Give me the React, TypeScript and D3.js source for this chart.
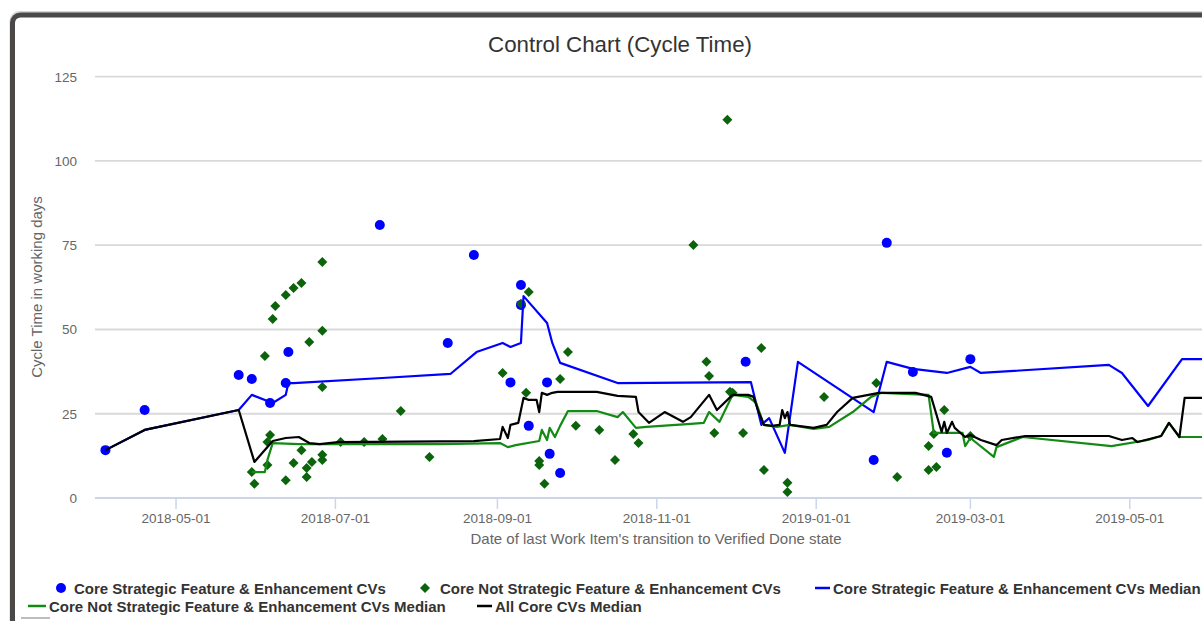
import React from "react";
import * as d3 from "d3";

const TITLE = "Control Chart (Cycle Time)";
const Y_TITLE = "Cycle Time in working days";
const X_TITLE = "Date of last Work Item's transition to Verified Done state";

const yTicks = [0, 25, 50, 75, 100, 125];
const xTicks = ["2018-05-01", "2018-07-01", "2018-09-01", "2018-11-01", "2019-01-01", "2019-03-01", "2019-05-01"];
const xDomain = ["2018-03-31", "2019-06-03"];

const seriesNames = [
  "Core Strategic Feature & Enhancement CVs",
  "Core Not Strategic Feature & Enhancement CVs",
  "Core Strategic Feature & Enhancement CVs Median",
  "Core Not Strategic Feature & Enhancement CVs Median",
  "All Core CVs Median",
];

const strategicPoints: [string, number][] = [
  ["2018-04-04", 14.2], ["2018-04-19", 26.1], ["2018-05-25", 36.5], ["2018-05-30", 35.3],
  ["2018-06-06", 28.2], ["2018-06-13", 43.3], ["2018-06-12", 34.1], ["2018-07-18", 81],
  ["2018-08-13", 46], ["2018-08-23", 72.1], ["2018-09-10", 63.2], ["2018-09-10", 57.3],
  ["2018-09-06", 34.3], ["2018-09-20", 34.3], ["2018-09-13", 21.4], ["2018-09-21", 13.1],
  ["2018-09-25", 7.4], ["2018-12-05", 40.4], ["2019-01-23", 11.3], ["2019-01-28", 75.7],
  ["2019-02-07", 37.4], ["2019-02-20", 13.4], ["2019-03-01", 41.2],
];

const notStrategicPoints: [string, number][] = [
  ["2018-05-30", 7.7], ["2018-05-31", 4.2], ["2018-06-04", 42.1], ["2018-06-05", 9.8],
  ["2018-06-05", 16.6], ["2018-06-06", 18.7], ["2018-06-07", 53.1], ["2018-06-08", 57],
  ["2018-06-12", 60.2], ["2018-06-12", 5.3], ["2018-06-15", 62.3], ["2018-06-15", 10.4],
  ["2018-06-18", 63.8], ["2018-06-18", 14.2], ["2018-06-20", 8.9], ["2018-06-20", 6.2],
  ["2018-06-21", 46.3], ["2018-06-22", 10.7], ["2018-06-26", 70], ["2018-06-26", 49.6],
  ["2018-06-26", 32.9], ["2018-06-26", 12.8], ["2018-06-26", 11.3], ["2018-07-03", 16.6],
  ["2018-07-12", 16.6], ["2018-07-19", 17.5], ["2018-07-26", 25.8], ["2018-08-06", 12.2],
  ["2018-09-03", 37.1], ["2018-09-10", 57.6], ["2018-09-13", 61.1], ["2018-09-12", 31.2],
  ["2018-09-17", 11], ["2018-09-17", 9.8], ["2018-09-19", 4.2], ["2018-09-25", 35.3],
  ["2018-09-28", 43.3], ["2018-10-01", 21.4], ["2018-10-10", 20.2], ["2018-10-16", 11.3],
  ["2018-10-23", 19], ["2018-10-25", 16.3], ["2018-11-15", 75.1], ["2018-11-20", 40.4],
  ["2018-11-21", 36.2], ["2018-11-23", 19.3], ["2018-11-28", 112.2], ["2018-11-29", 31.5],
  ["2018-11-30", 31.2], ["2018-12-04", 19.3], ["2018-12-11", 44.5], ["2018-12-12", 8.3],
  ["2018-12-21", 4.5], ["2018-12-21", 1.8], ["2019-01-04", 30], ["2019-01-24", 34.1],
  ["2019-02-01", 6.2], ["2019-02-13", 15.4], ["2019-02-13", 8.3], ["2019-02-16", 9.2],
  ["2019-02-15", 19], ["2019-02-19", 26.1], ["2019-03-01", 18.4],
];

const strategicMedian: [string, number][] = [
  ["2018-04-04", 14.2], ["2018-04-19", 20.2], ["2018-05-25", 26.1], ["2018-05-30", 30.6],
  ["2018-06-07", 28.2], ["2018-06-12", 30.6], ["2018-06-13", 34.1], ["2018-06-15", 34.1],
  ["2018-07-19", 35.6], ["2018-08-14", 36.8], ["2018-08-24", 43.3], ["2018-09-03", 46],
  ["2018-09-06", 44.8], ["2018-09-10", 46], ["2018-09-11", 59.9], ["2018-09-20", 51.9],
  ["2018-09-22", 46], ["2018-09-25", 40.1], ["2018-10-17", 34.1], ["2018-12-07", 34.4],
  ["2018-12-11", 21.7], ["2018-12-14", 23.7], ["2018-12-20", 13.4], ["2018-12-25", 40.4],
  ["2019-01-23", 25.5], ["2019-01-28", 40.4], ["2019-02-07", 38.3], ["2019-02-20", 37.1],
  ["2019-03-01", 38.9], ["2019-03-05", 37.1], ["2019-04-23", 39.5], ["2019-04-28", 37.1],
  ["2019-05-08", 27.3], ["2019-05-21", 41.2], ["2019-06-03", 41.2],
];

const notStrategicMedian: [string, number][] = [
  ["2018-05-30", 7.7], ["2018-06-04", 7.7], ["2018-06-05", 11.3], ["2018-06-07", 16.3],
  ["2018-06-17", 16], ["2018-08-10", 16], ["2018-09-02", 16.3], ["2018-09-05", 15.1],
  ["2018-09-08", 15.7], ["2018-09-17", 16.9], ["2018-09-18", 20.2], ["2018-09-20", 17.2],
  ["2018-09-21", 20.8], ["2018-09-23", 18.1], ["2018-09-25", 21.4], ["2018-09-28", 25.8],
  ["2018-10-09", 25.8], ["2018-10-17", 24], ["2018-10-19", 25.5], ["2018-10-24", 20.8],
  ["2018-10-28", 21.1], ["2018-11-14", 22], ["2018-11-19", 22.3], ["2018-11-21", 25.5],
  ["2018-11-25", 22.6], ["2018-11-30", 30.6], ["2018-12-06", 30], ["2018-12-09", 28.2],
  ["2018-12-12", 21.7], ["2018-12-17", 21.1], ["2018-12-22", 21.7], ["2018-12-31", 20.5],
  ["2019-01-06", 21.1], ["2019-01-15", 25.5], ["2019-01-22", 30], ["2019-01-26", 31.2],
  ["2019-02-13", 30.6], ["2019-02-15", 19.3], ["2019-02-26", 19.3], ["2019-02-27", 15.4],
  ["2019-03-01", 17.8], ["2019-03-10", 12.2], ["2019-03-11", 15.1], ["2019-03-21", 18.1],
  ["2019-04-24", 15.4], ["2019-05-08", 17.2], ["2019-05-13", 18.4], ["2019-05-16", 22.3],
  ["2019-05-20", 18.1], ["2019-06-03", 18.1],
];

const allMedian: [string, number][] = [
  ["2018-04-04", 14.2], ["2018-04-19", 20.2], ["2018-05-25", 26.1], ["2018-05-31", 10.7],
  ["2018-06-07", 16.9], ["2018-06-12", 17.8], ["2018-06-17", 18.1], ["2018-06-21", 16.3],
  ["2018-06-25", 16], ["2018-07-02", 16.6], ["2018-08-23", 16.9], ["2018-09-02", 17.5],
  ["2018-09-03", 21.1], ["2018-09-05", 17.8], ["2018-09-06", 21.7], ["2018-09-09", 22.3],
  ["2018-09-11", 29.7], ["2018-09-13", 29.1], ["2018-09-16", 29.1], ["2018-09-17", 25.5],
  ["2018-09-18", 31.2], ["2018-09-20", 30.6], ["2018-09-22", 31.2], ["2018-09-24", 31.5],
  ["2018-10-09", 31.5], ["2018-10-17", 30.3], ["2018-10-24", 30], ["2018-10-25", 25.5],
  ["2018-10-29", 22.3], ["2018-11-04", 25.5], ["2018-11-11", 22.6], ["2018-11-14", 24],
  ["2018-11-21", 30.6], ["2018-11-24", 26.1], ["2018-11-30", 30.6], ["2018-12-06", 30.6],
  ["2018-12-08", 30], ["2018-12-10", 25.5], ["2018-12-12", 21.7], ["2018-12-15", 21.4],
  ["2018-12-18", 21.7], ["2018-12-19", 26.1], ["2018-12-20", 23.7], ["2018-12-21", 25.5],
  ["2018-12-22", 21.7], ["2018-12-31", 20.8], ["2019-01-05", 21.7], ["2019-01-09", 25.5],
  ["2019-01-15", 29.7], ["2019-01-25", 31.2], ["2019-02-08", 31.2], ["2019-02-14", 30],
  ["2019-02-18", 19.6], ["2019-02-19", 22.6], ["2019-02-20", 19.3], ["2019-02-22", 22.6],
  ["2019-02-23", 20.8], ["2019-02-27", 18.1], ["2019-03-01", 18.7], ["2019-03-05", 17.2],
  ["2019-03-11", 15.7], ["2019-03-13", 17.2], ["2019-03-22", 18.4], ["2019-04-23", 18.4],
  ["2019-04-28", 17.2], ["2019-05-02", 17.8], ["2019-05-04", 16.6], ["2019-05-13", 18.4],
  ["2019-05-16", 22.3], ["2019-05-20", 18.1], ["2019-05-22", 29.7], ["2019-06-03", 29.7],
];

const BLUE = "#0000ff";
const GREEN_MARK = "#0b640b";
const GREEN_LINE = "#138a13";
const BLACK = "#000000";
const FONT = "'Liberation Sans', Arial, Helvetica, sans-serif";

const parse = d3.timeParse("%Y-%m-%d");

const W = 1202;
const H = 621;
const PLOT = { left: 95, right: 1216, top: 76.7, bottom: 498 };

function diamond(cx: number, cy: number, r: number) {
  return `M${cx},${cy - r}L${cx + r},${cy}L${cx},${cy + r}L${cx - r},${cy}Z`;
}

export default function App() {
  const x = d3
    .scaleTime()
    .domain(xDomain.map((d) => parse(d) as Date))
    .range([PLOT.left, PLOT.right]);
  const y = d3.scaleLinear().domain([0, 125]).range([PLOT.bottom, PLOT.top]);

  const line = d3
    .line<[string, number]>()
    .x((d) => x(parse(d[0]) as Date))
    .y((d) => y(d[1]));

  const legendRow1 = 588;
  const legendRow2 = 606;
  const legendFont = { fontFamily: FONT, fontSize: 15, fontWeight: 700, fill: "#333333" } as const;

  return (
    <svg
      width={W}
      height={H}
      style={{ position: "absolute", left: 0, top: 0, display: "block", background: "#fff" }}
    >
      <rect x={0} y={0} width={W} height={H} fill="#ffffff" />
      {/* frame */}
      <rect x={10.5} y={12} width={1400} height={800} rx={9} fill="none" stroke="#d4d2d2" strokeWidth={2} />
      <rect x={12.5} y={15} width={1400} height={800} rx={8} fill="#ffffff" stroke="#4b4848" strokeWidth={5} />
      <line x1={21} x2={50} y1={618} y2={618} stroke="#bdbdbd" strokeWidth={2} />

      {/* title */}
      <text x={620} y={52} textAnchor="middle" style={{ fontFamily: FONT, fontSize: 22.3, fill: "#333333" }}>
        {TITLE}
      </text>

      {/* grid */}
      {yTicks.filter((t) => t > 0).map((t) => (
        <line key={t} x1={PLOT.left} x2={PLOT.right} y1={y(t)} y2={y(t)} stroke="#d9d9d9" strokeWidth={1.8} />
      ))}
      {yTicks.map((t) => (
        <text
          key={"yl" + t}
          x={77}
          y={y(t) + 5}
          textAnchor="end"
          style={{ fontFamily: FONT, fontSize: 13.5, fill: "#666666" }}
        >
          {t}
        </text>
      ))}

      {/* x axis */}
      <line x1={PLOT.left} x2={PLOT.right} y1={PLOT.bottom} y2={PLOT.bottom} stroke="#ccd6eb" strokeWidth={1.8} />
      {xTicks.map((t) => {
        const px = x(parse(t) as Date);
        return (
          <g key={t}>
            <line x1={px} x2={px} y1={PLOT.bottom} y2={PLOT.bottom + 11} stroke="#ccd6eb" strokeWidth={1.5} />
            <text x={px} y={523} textAnchor="middle" style={{ fontFamily: FONT, fontSize: 13.5, fill: "#666666" }}>
              {t}
            </text>
          </g>
        );
      })}

      {/* axis titles */}
      <text
        transform={`translate(42,287) rotate(-90)`}
        textAnchor="middle"
        style={{ fontFamily: FONT, fontSize: 15, fill: "#666666" }}
      >
        {Y_TITLE}
      </text>
      <text x={656} y={544} textAnchor="middle" style={{ fontFamily: FONT, fontSize: 15, fill: "#666666" }}>
        {X_TITLE}
      </text>

      {/* markers */}
      {strategicPoints.map((d, i) => (
        <circle key={"s" + i} cx={x(parse(d[0]) as Date)} cy={y(d[1])} r={5} fill={BLUE} />
      ))}
      {notStrategicPoints.map((d, i) => (
        <path key={"n" + i} d={diamond(x(parse(d[0]) as Date), y(d[1]), 5)} fill={GREEN_MARK} />
      ))}

      {/* median lines */}
      <path d={line(strategicMedian) || ""} fill="none" stroke={BLUE} strokeWidth={2.2} strokeLinejoin="round" />
      <path d={line(notStrategicMedian) || ""} fill="none" stroke={GREEN_LINE} strokeWidth={2.2} strokeLinejoin="round" />
      <path d={line(allMedian) || ""} fill="none" stroke={BLACK} strokeWidth={2.2} strokeLinejoin="round" />

      {/* legend */}
      <circle cx={61} cy={legendRow1} r={5} fill={BLUE} />
      <text x={74} y={legendRow1 + 5.5} style={legendFont}>{seriesNames[0]}</text>
      <path d={diamond(425, legendRow1, 5)} fill={GREEN_MARK} />
      <text x={440} y={legendRow1 + 5.5} style={legendFont}>{seriesNames[1]}</text>
      <line x1={815} x2={830} y1={legendRow1} y2={legendRow1} stroke={BLUE} strokeWidth={2.5} />
      <text x={833} y={legendRow1 + 5.5} style={legendFont}>{seriesNames[2]}</text>
      <line x1={28} x2={46} y1={legendRow2} y2={legendRow2} stroke={GREEN_LINE} strokeWidth={2.5} />
      <text x={49} y={legendRow2 + 5.5} style={legendFont}>{seriesNames[3]}</text>
      <line x1={477} x2={492} y1={legendRow2} y2={legendRow2} stroke={BLACK} strokeWidth={2.5} />
      <text x={495} y={legendRow2 + 5.5} style={legendFont}>{seriesNames[4]}</text>
    </svg>
  );
}
